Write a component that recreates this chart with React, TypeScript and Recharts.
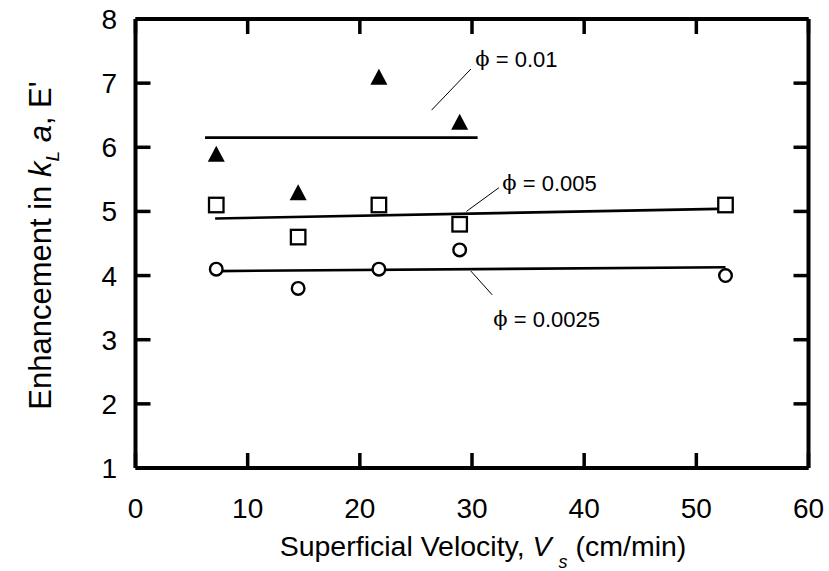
import React from 'react';
import { ComposedChart, Scatter, Line, XAxis, YAxis, ReferenceLine } from 'recharts';

// Superficial velocity (cm/min)
const velocities = [7.2, 14.5, 21.7, 28.9, 52.6];
// Enhancement E' for each particle loading
const phi001Values = [5.9, 5.3, 7.1, 6.4];
const phi0005Values = [5.1, 4.6, 5.1, 4.8, 5.1];
const phi00025Values = [4.1, 3.8, 4.1, 4.4, 4.0];

// Fitted lines (end points)
const fit001X = [6.2, 30.5];
const fit001Y = [6.15, 6.15];
const fit0005X = [7.1, 52.0];
const fit0005Y = [4.89, 5.04];
const fit00025X = [7.2, 52.6];
const fit00025Y = [4.07, 4.13];

const xTicks = [0, 10, 20, 30, 40, 50, 60];
const yTicks = [1, 2, 3, 4, 5, 6, 7, 8];

// Annotations
const annLabels = ['0.01', '0.005', '0.0025'];
const annTextX = [30.3, 32.7, 31.9];
const annTextY = [7.375, 5.45, 3.33];
const leaderX1 = [26.4, 29.5, 29.9];
const leaderY1 = [6.58, 5.0, 4.07];
const leaderX2 = [29.9, 32.4, 31.8];
const leaderY2 = [7.22, 5.37, 3.7];

const FONT = 'Liberation Sans, Arial, Helvetica, sans-serif';

const toPts = (xs: number[], ys: number[]) => ys.map((y, i) => ({ x: xs[i], y }));
const data001 = toPts(velocities, phi001Values);
const data0005 = toPts(velocities, phi0005Values);
const data00025 = toPts(velocities, phi00025Values);
const line001 = toPts(fit001X, fit001Y);
const line0005 = toPts(fit0005X, fit0005Y);
const line00025 = toPts(fit00025X, fit00025Y);
const annData = annLabels.map((v, i) => ({ x: annTextX[i], y: annTextY[i], v }));

const Triangle = (p: any) => {
  const { cx, cy } = p;
  if (cx == null || cy == null) return null;
  const w = 17, h = 16;
  return <path d={`M${cx},${cy - h / 2} L${cx + w / 2},${cy + h / 2} L${cx - w / 2},${cy + h / 2} Z`} fill="#000" />;
};
const Square = (p: any) => {
  const { cx, cy } = p;
  if (cx == null || cy == null) return null;
  const s = 14.5;
  return <rect x={cx - s / 2} y={cy - s / 2} width={s} height={s} fill="#fff" stroke="#000" strokeWidth={2.3} />;
};
const Circle = (p: any) => {
  const { cx, cy } = p;
  if (cx == null || cy == null) return null;
  return <circle cx={cx} cy={cy} r={6.3} fill="#fff" stroke="#000" strokeWidth={2.4} />;
};
const AnnText = (p: any) => {
  const { cx, cy, payload } = p;
  if (cx == null || cy == null) return null;
  return (
    <text x={cx} y={cy} dominantBaseline="central" fontSize={22} fontFamily={FONT} fill="#000">
      <tspan fontFamily="DejaVu Serif, Liberation Serif, serif" fontSize={21}>ϕ</tspan>
      <tspan>{` = ${payload.v}`}</tspan>
    </text>
  );
};

const YTitle = (props: any) => {
  const vb = props.viewBox || { x: 0, y: 0, width: 0, height: 0 };
  const x = vb.x + 50.5;
  const y = vb.y + vb.height / 2 + 2;
  return (
    <text x={x} y={y} transform={`rotate(-90, ${x}, ${y})`} textAnchor="middle" fontSize={31} fontFamily={FONT} fill="#000">
      <tspan>Enhancement in </tspan>
      <tspan fontStyle="italic">k</tspan>
      <tspan fontSize={19} fontStyle="italic" dy={8}>L</tspan>
      <tspan dy={-8}>{'  '}</tspan>
      <tspan fontStyle="italic">a</tspan>
      <tspan>, E'</tspan>
    </text>
  );
};

const XTitle = (props: any) => {
  const vb = props.viewBox || { x: 0, y: 0, width: 0, height: 0 };
  const x = vb.x + vb.width / 2 + 11;
  const y = vb.y + 88;
  return (
    <text x={x} y={y} textAnchor="middle" fontSize={28.5} fontFamily={FONT} fill="#000">
      <tspan>Superficial Velocity, </tspan>
      <tspan fontStyle="italic">V</tspan>
      <tspan fontSize={18} fontStyle="italic" dx={7} dy={12}>s</tspan>
      <tspan dy={-12}> (cm/min)</tspan>
    </text>
  );
};

const frame = { stroke: '#000', strokeWidth: 4 };
const tickLn = { stroke: '#000', strokeWidth: 3.5 };
const tickTxt = { fontSize: 28, fill: '#000', fontFamily: FONT };
const NoLabel = () => <g />;

export default function App() {
  return (
    <div style={{ position: 'absolute', left: 0, top: 0, background: '#fff' }}>
      <ComposedChart width={829} height={571} margin={{ top: 19, right: 20.5, bottom: 0, left: 0.5 }}>
        <XAxis
          xAxisId="main"
          dataKey="x"
          type="number"
          domain={[0, 60]}
          ticks={xTicks}
          orientation="bottom"
          height={103}
          axisLine={frame}
          tickLine={false}
          tickSize={0}
          tickMargin={30}
          tick={tickTxt}
          label={{ content: XTitle }}
          allowDataOverflow
        />
        <XAxis
          xAxisId="bm"
          dataKey="x"
          type="number"
          domain={[0, 60]}
          ticks={xTicks}
          orientation="bottom"
          mirror
          axisLine={false}
          tickLine={tickLn}
          tickSize={15}
          tick={NoLabel}
          allowDataOverflow
        />
        <XAxis
          xAxisId="tm"
          dataKey="x"
          type="number"
          domain={[0, 60]}
          ticks={xTicks}
          orientation="top"
          mirror
          axisLine={frame}
          tickLine={tickLn}
          tickSize={15}
          tick={NoLabel}
          allowDataOverflow
        />
        <YAxis
          yAxisId="main"
          type="number"
          domain={[1, 8]}
          ticks={yTicks}
          orientation="left"
          width={135}
          axisLine={frame}
          tickLine={false}
          tickSize={0}
          tickMargin={18.5}
          tick={tickTxt}
          label={{ content: YTitle }}
          allowDataOverflow
        />
        <YAxis
          yAxisId="lm"
          type="number"
          domain={[1, 8]}
          ticks={yTicks}
          orientation="left"
          mirror
          axisLine={false}
          tickLine={tickLn}
          tickSize={15}
          tick={NoLabel}
          allowDataOverflow
        />
        <YAxis
          yAxisId="rm"
          type="number"
          domain={[1, 8]}
          ticks={yTicks}
          orientation="right"
          mirror
          axisLine={frame}
          tickLine={tickLn}
          tickSize={15}
          tick={NoLabel}
          allowDataOverflow
        />

        <Line data={line001} dataKey="y" xAxisId="main" yAxisId="main" stroke="#000" strokeWidth={2.6} dot={false} isAnimationActive={false} />
        <Line data={line0005} dataKey="y" xAxisId="main" yAxisId="main" stroke="#000" strokeWidth={2.6} dot={false} isAnimationActive={false} />
        <Line data={line00025} dataKey="y" xAxisId="main" yAxisId="main" stroke="#000" strokeWidth={2.6} dot={false} isAnimationActive={false} />

        {annLabels.map((_, i) => (
          <ReferenceLine
            key={i}
            xAxisId="main"
            yAxisId="main"
            segment={[{ x: leaderX1[i], y: leaderY1[i] }, { x: leaderX2[i], y: leaderY2[i] }]}
            stroke="#000"
            strokeWidth={1}
          />
        ))}

        <Scatter data={data001} dataKey="y" xAxisId="main" yAxisId="main" shape={<Triangle />} isAnimationActive={false} />
        <Scatter data={data0005} dataKey="y" xAxisId="main" yAxisId="main" shape={<Square />} isAnimationActive={false} />
        <Scatter data={data00025} dataKey="y" xAxisId="main" yAxisId="main" shape={<Circle />} isAnimationActive={false} />
        <Scatter data={annData} dataKey="y" xAxisId="main" yAxisId="main" shape={<AnnText />} isAnimationActive={false} />
      </ComposedChart>
    </div>
  );
}
